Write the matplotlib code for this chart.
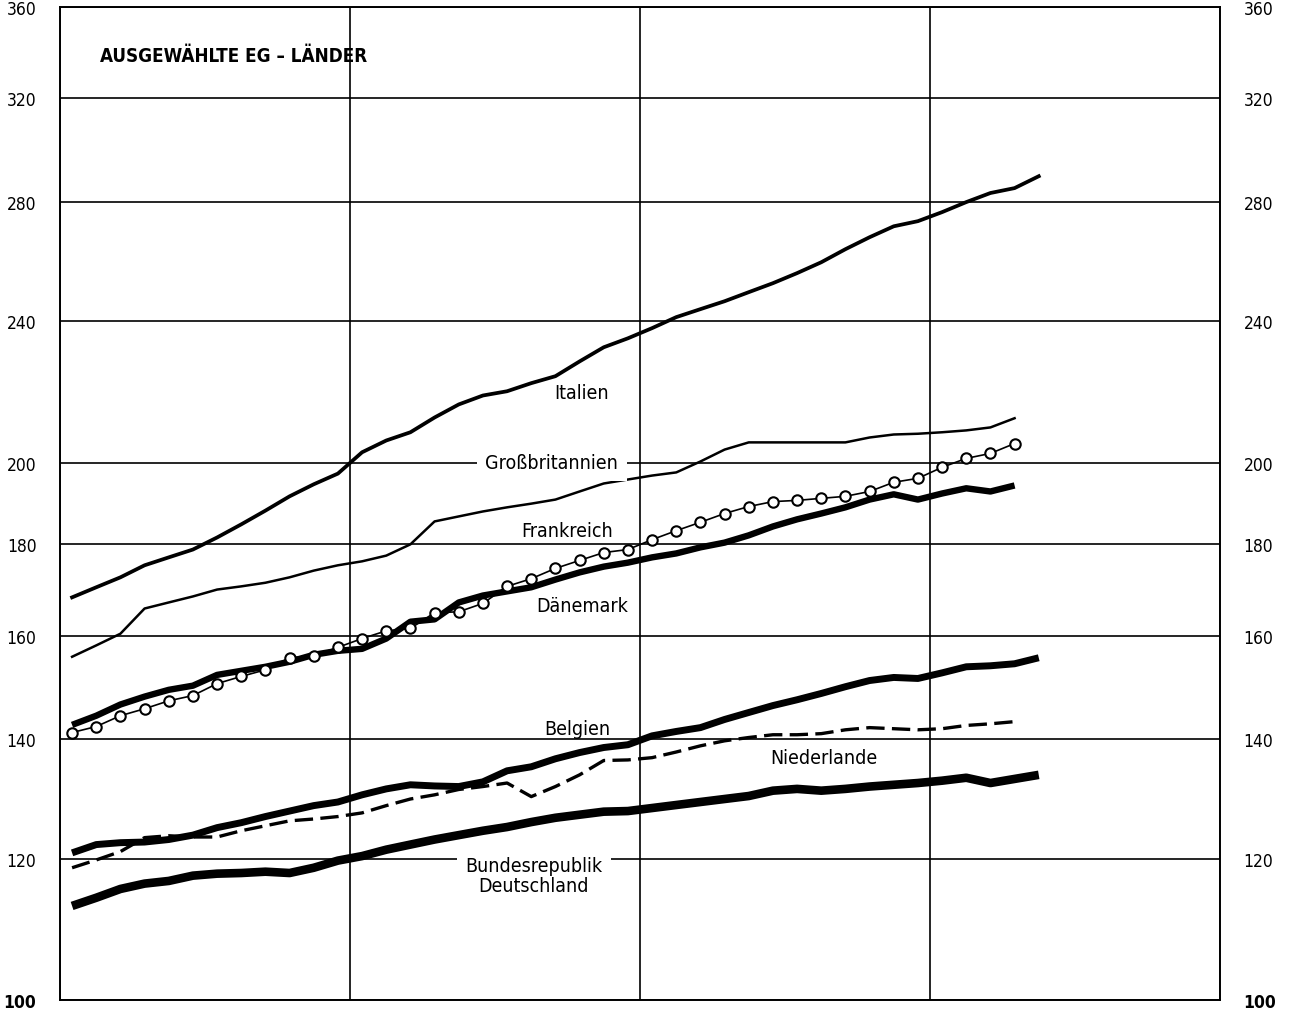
import matplotlib
matplotlib.use('Agg')
import matplotlib.pyplot as plt
import numpy as np
from matplotlib.ticker import NullLocator, NullFormatter

# month index (mid-month positions), four years on the x axis
months = np.arange(1, 42)

italien = [168.1, 170.3, 172.5, 175.2, 177.0, 178.8, 181.6, 184.7, 188.0, 191.5,
           194.5, 197.2, 202.7, 205.8, 208.0, 212.0, 215.6, 218.1, 219.3, 221.6,
           223.6, 227.9, 232.1, 234.8, 237.9, 241.3, 243.8, 246.3, 249.2, 252.1,
           255.4, 259.0, 263.4, 267.5, 271.3, 273.1, 276.3, 279.9, 283.2, 285.0,
           289.4]

grossbritannien = [155.7, 158.0, 160.4, 165.7, 167.0, 168.3, 169.8, 170.5, 171.3, 172.5,
                   174.0, 175.2, 176.1, 177.4, 180.0, 185.4, 186.6, 187.8, 188.8, 189.7,
                   190.7, 192.7, 194.7, 195.7, 196.7, 197.5, 200.3, 203.4, 205.3, 205.3,
                   205.3, 205.3, 205.3, 206.6, 207.4, 207.6, 208.0, 208.5, 209.3, 211.8]

frankreich = [141.2, 142.3, 144.3, 145.6, 147.1, 148.1, 150.4, 151.8, 153.1, 155.5,
              155.9, 157.6, 159.4, 161.0, 161.5, 164.8, 165.0, 166.8, 170.5, 172.2,
              174.5, 176.3, 178.1, 178.8, 181.1, 183.2, 185.2, 187.3, 189.0, 190.2,
              190.5, 191.0, 191.5, 192.7, 195.0, 196.0, 198.8, 201.1, 202.4, 205.0]

daenemark = [142.6, 144.3, 146.4, 147.9, 149.2, 150.0, 152.1, 152.9, 153.7, 154.7,
             156.1, 156.9, 157.3, 159.4, 162.9, 163.4, 167.0, 168.5, 169.4, 170.3,
             172.0, 173.6, 174.9, 175.8, 177.0, 177.9, 179.3, 180.4, 182.1, 184.2,
             185.9, 187.3, 188.8, 190.7, 192.0, 190.7, 192.2, 193.5, 192.7, 194.2]

belgien = [120.9, 122.2, 122.5, 122.6, 123.0, 123.7, 124.9, 125.7, 126.7, 127.6,
           128.5, 129.1, 130.3, 131.3, 132.0, 131.8, 131.7, 132.5, 134.4, 135.1,
           136.5, 137.6, 138.5, 139.0, 140.6, 141.4, 142.1, 143.6, 144.9, 146.2,
           147.3, 148.5, 149.8, 151.0, 151.6, 151.4, 152.5, 153.7, 153.9, 154.3,
           155.5]

niederlande = [118.6, 119.8, 121.1, 123.3, 123.6, 123.4, 123.4, 124.4, 125.2, 126.0,
               126.3, 126.7, 127.3, 128.5, 129.6, 130.3, 131.2, 131.7, 132.3, 130.0,
               131.7, 133.7, 136.2, 136.3, 136.7, 137.7, 138.8, 139.7, 140.3, 140.8,
               140.8, 141.0, 141.7, 142.1, 141.9, 141.7, 141.9, 142.5, 142.8, 143.2]

brd = [112.9, 114.1, 115.4, 116.2, 116.6, 117.4, 117.7, 117.8, 118.0, 117.8,
       118.6, 119.7, 120.4, 121.4, 122.2, 123.0, 123.7, 124.4, 125.0, 125.8,
       126.5, 127.0, 127.5, 127.6, 128.1, 128.6, 129.1, 129.6, 130.1, 131.0,
       131.3, 131.0, 131.3, 131.7, 132.0, 132.3, 132.7, 133.2, 132.3, 133.0,
       133.7]

y_ticks = [100, 120, 140, 160, 180, 200, 240, 280, 320, 360]
year_edges = [0, 12, 24, 36, 48]

plt.rcParams['font.family'] = ['DejaVu Sans']
plt.rcParams['font.stretch'] = 'condensed'


def xpos(series):
    # data sits in the middle of each month
    return months[:len(series)] - 0.5


fig = plt.figure(figsize=(12.9, 10.12), dpi=100)
ax = fig.add_axes([60 / 1290, 1 - 1001 / 1012, 1160 / 1290, 993 / 1012])

ax.set_yscale('log')
ax.set_ylim(100, 360)
ax.set_xlim(0, 48)

# grid
for yv in y_ticks:
    ax.axhline(yv, color='black', lw=1.2, zorder=1)
for xv in year_edges:
    ax.axvline(xv, color='black', lw=1.2, zorder=1)
for s in ax.spines.values():
    s.set_linewidth(1.4)

ax.yaxis.set_minor_locator(NullLocator())
ax.yaxis.set_minor_formatter(NullFormatter())
ax.set_yticks(y_ticks)
ax.set_yticklabels([str(v) for v in y_ticks])
ax.set_xticks([])
ax.tick_params(axis='y', length=0, pad=17, labelsize=12.5,
               labelleft=True, labelright=True)
for t in ax.yaxis.get_major_ticks():
    if t.label1.get_text() == '100':
        t.label1.set_fontweight('bold')
        t.label2.set_fontweight('bold')

# series
ax.plot(xpos(italien), italien, color='black', lw=2.7, solid_joinstyle='round', zorder=3)
ax.plot(xpos(grossbritannien), grossbritannien, color='black', lw=1.8,
        solid_joinstyle='round', zorder=3)
ax.plot(xpos(daenemark), daenemark, color='black', lw=4.6, solid_joinstyle='round',
        solid_capstyle='butt', zorder=3)
ax.plot(xpos(frankreich), frankreich, color='black', lw=1.2, marker='o', ms=7.5,
        mfc='white', mec='black', mew=1.5, zorder=4)
ax.plot(xpos(belgien), belgien, color='black', lw=5.0, solid_joinstyle='round',
        solid_capstyle='butt', zorder=3)
ax.plot(xpos(niederlande), niederlande, color='black', lw=2.4, dashes=(5.5, 2.2), zorder=3)
ax.plot(xpos(brd), brd, color='black', lw=6.2, solid_joinstyle='round',
        solid_capstyle='butt', zorder=3)

# labels
lbl = dict(fontsize=14, ha='center', va='center', color='black', zorder=5)
box = dict(facecolor='white', edgecolor='none', pad=6)
ax.text(21.6, 219.0, 'Italien', **lbl)
ax.text(20.35, 200, 'Großbritannien', bbox=box, **lbl)
ax.text(21.0, 183.3, 'Frankreich', **lbl)
ax.text(21.6, 166.3, 'Dänemark', **lbl)
ax.text(21.4, 142.0, 'Belgien', **lbl)
ax.text(31.6, 136.8, 'Niederlande', **lbl)
ax.text(19.6, 118.9, 'Bundesrepublik', bbox=box, **lbl)
ax.text(19.6, 115.9, 'Deutschland', **lbl)

ax.text(1.65, 338, 'AUSGEWÄHLTE EG – LÄNDER', fontsize=13.5, fontweight='bold',
        ha='left', va='center')

fig.savefig('out.png', dpi=100)
